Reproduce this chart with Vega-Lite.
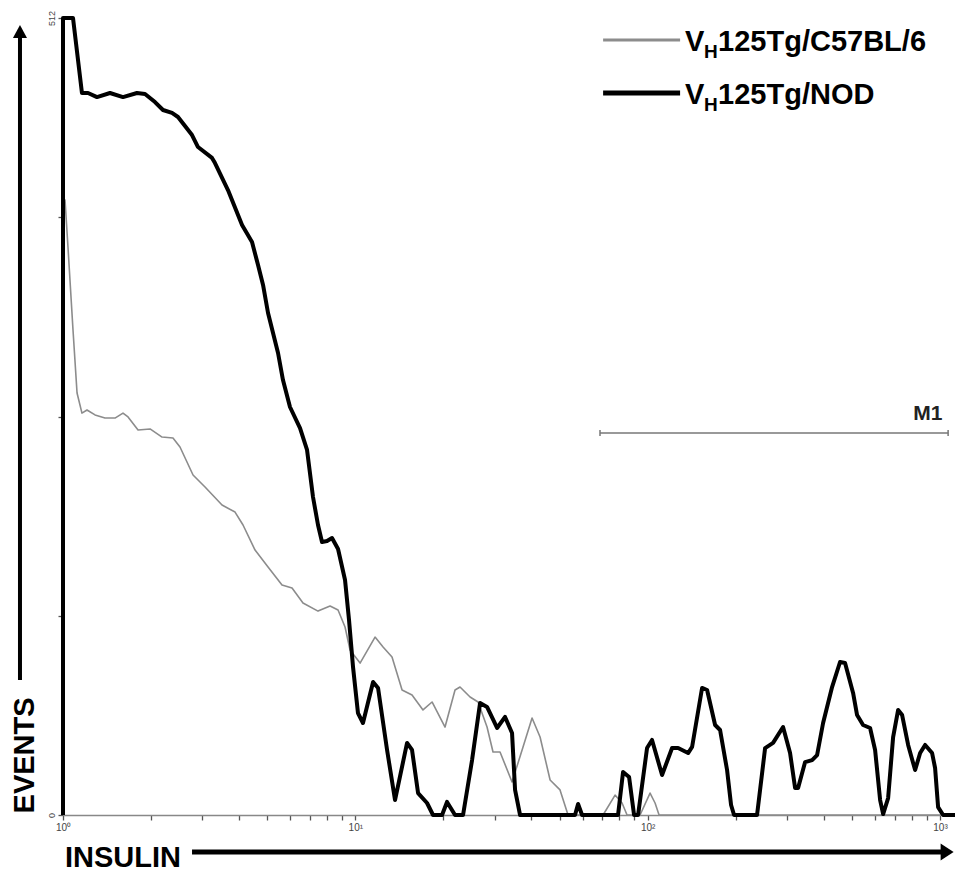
{
  "$schema": "https://vega.github.io/schema/vega-lite/v6.json",
  "width": 877,
  "height": 797,
  "autosize": {"type": "none"},
  "padding": {"left": 63, "top": 18, "right": 15, "bottom": 58},
  "background": "white",
  "config": {"view": {"stroke": null}, "font": "Liberation Sans"},
  "datasets": {
    "b6": [
      {"i":0,"x":1,"y":396.4},{"i":1,"x":1.016,"y":395.1},{"i":2,"x":1.04,"y":364.9},{"i":3,"x":1.082,"y":311.6},{"i":4,"x":1.117,"y":271.1},{"i":5,"x":1.161,"y":258.2},{"i":6,"x":1.208,"y":260.2},{"i":7,"x":1.287,"y":257},{"i":8,"x":1.392,"y":255},{"i":9,"x":1.506,"y":255},{"i":10,"x":1.604,"y":258.2},{"i":11,"x":1.669,"y":255.7},{"i":12,"x":1.806,"y":247.3},{"i":13,"x":1.985,"y":248},{"i":14,"x":2.182,"y":242.8},{"i":15,"x":2.378,"y":242.2},{"i":16,"x":2.513,"y":236.4},{"i":17,"x":2.785,"y":218.4},{"i":18,"x":3.061,"y":210.7},{"i":19,"x":3.499,"y":199.1},{"i":20,"x":3.877,"y":194.6},{"i":21,"x":4.129,"y":186.3},{"i":22,"x":4.539,"y":170.2},{"i":23,"x":5.028,"y":159.3},{"i":24,"x":5.613,"y":147.8},{"i":25,"x":6.074,"y":145.8},{"i":26,"x":6.622,"y":136.2},{"i":27,"x":7.453,"y":131},{"i":28,"x":8.195,"y":134.3},{"i":29,"x":8.727,"y":131.7},{"i":30,"x":9.221,"y":120.8},{"i":31,"x":9.592,"y":106},{"i":32,"x":10.38,"y":97.6},{"i":33,"x":11.68,"y":114.3},{"i":34,"x":12.44,"y":107.9},{"i":35,"x":13.35,"y":101.5},{"i":36,"x":14.45,"y":80.3},{"i":37,"x":15.63,"y":77.1},{"i":38,"x":17.04,"y":67.5},{"i":39,"x":18.3,"y":72.6},{"i":40,"x":20.27,"y":56.5},{"i":41,"x":21.93,"y":80.3},{"i":42,"x":22.81,"y":82.2},{"i":43,"x":24.69,"y":75.8},{"i":44,"x":26.29,"y":72.6},{"i":45,"x":28.22,"y":56.5},{"i":46,"x":29.58,"y":40.5},{"i":47,"x":31.26,"y":40.5},{"i":48,"x":34.36,"y":21.2},{"i":49,"x":37.47,"y":43.7},{"i":50,"x":40.23,"y":62.3},{"i":51,"x":42.85,"y":50.1},{"i":52,"x":46.37,"y":22.5},{"i":53,"x":50.14,"y":16.1},{"i":54,"x":53.42,"y":0},{"i":55,"x":70.38,"y":0},{"i":56,"x":77.35,"y":12.8},{"i":57,"x":81.73,"y":7.7},{"i":58,"x":85.02,"y":0},{"i":59,"x":94.19,"y":0},{"i":60,"x":101.9,"y":14.1},{"i":61,"x":106,"y":7.7},{"i":62,"x":109.4,"y":0},{"i":63,"x":1126,"y":0}
    ],
    "nod": [
      {"i":0,"x":1,"y":0},{"i":1,"x":1,"y":512},{"i":2,"x":1.082,"y":512},{"i":3,"x":1.161,"y":463.8},{"i":4,"x":1.218,"y":463.8},{"i":5,"x":1.307,"y":461.2},{"i":6,"x":1.448,"y":463.8},{"i":7,"x":1.604,"y":461.2},{"i":8,"x":1.791,"y":463.8},{"i":9,"x":1.908,"y":463.2},{"i":10,"x":2.064,"y":458},{"i":11,"x":2.198,"y":452.9},{"i":12,"x":2.36,"y":451},{"i":13,"x":2.474,"y":448.4},{"i":14,"x":2.763,"y":436.8},{"i":15,"x":2.896,"y":429.1},{"i":16,"x":3.234,"y":422.1},{"i":17,"x":3.311,"y":418.8},{"i":18,"x":3.667,"y":401.5},{"i":19,"x":4.097,"y":379},{"i":20,"x":4.432,"y":368.1},{"i":21,"x":4.647,"y":353.3},{"i":22,"x":4.834,"y":340.5},{"i":23,"x":5.028,"y":322.5},{"i":24,"x":5.44,"y":296.8},{"i":25,"x":5.656,"y":279.4},{"i":26,"x":5.977,"y":262.1},{"i":27,"x":6.469,"y":248.6},{"i":28,"x":6.836,"y":234.5},{"i":29,"x":7.165,"y":204.3},{"i":30,"x":7.453,"y":186.3},{"i":31,"x":7.692,"y":175.4},{"i":32,"x":8.001,"y":176},{"i":33,"x":8.322,"y":177.9},{"i":34,"x":8.727,"y":170.9},{"i":35,"x":9.221,"y":151},{"i":36,"x":9.515,"y":125.3},{"i":37,"x":9.82,"y":95.1},{"i":38,"x":10.21,"y":65.5},{"i":39,"x":10.62,"y":59.1},{"i":40,"x":11.5,"y":85.4},{"i":41,"x":11.96,"y":81.6},{"i":42,"x":12.84,"y":41.8},{"i":43,"x":13.67,"y":9.6},{"i":44,"x":15.03,"y":46.3},{"i":45,"x":15.63,"y":41.8},{"i":46,"x":16.39,"y":14.1},{"i":47,"x":17.59,"y":7.7},{"i":48,"x":18.44,"y":0},{"i":49,"x":19.8,"y":0},{"i":50,"x":20.59,"y":8.4},{"i":51,"x":21.93,"y":0},{"i":52,"x":23.36,"y":0},{"i":53,"x":25.08,"y":35.3},{"i":54,"x":26.71,"y":71.9},{"i":55,"x":28.22,"y":69.4},{"i":56,"x":30.54,"y":55.9},{"i":57,"x":32.52,"y":63},{"i":58,"x":34.36,"y":52.7},{"i":59,"x":35.19,"y":16.1},{"i":60,"x":36.6,"y":0},{"i":61,"x":56.43,"y":0},{"i":62,"x":57.8,"y":7.1},{"i":63,"x":59.64,"y":0},{"i":64,"x":79.19,"y":0},{"i":65,"x":82.38,"y":27.6},{"i":66,"x":86.38,"y":24.4},{"i":67,"x":89.84,"y":0},{"i":68,"x":92.73,"y":0},{"i":69,"x":99.52,"y":43},{"i":70,"x":103.5,"y":48.2},{"i":71,"x":112,"y":25.7},{"i":72,"x":121.2,"y":43},{"i":73,"x":127.1,"y":43},{"i":74,"x":137.5,"y":39.8},{"i":75,"x":141.9,"y":43.7},{"i":76,"x":153.5,"y":81.6},{"i":77,"x":159.7,"y":80.3},{"i":78,"x":170.1,"y":57.8},{"i":79,"x":176.9,"y":54.6},{"i":80,"x":186.9,"y":28.9},{"i":81,"x":192.9,"y":6.4},{"i":82,"x":197.5,"y":0},{"i":83,"x":236.7,"y":0},{"i":84,"x":252.2,"y":43},{"i":85,"x":268.5,"y":46.3},{"i":86,"x":290.5,"y":56.5},{"i":87,"x":307,"y":39.8},{"i":88,"x":319.4,"y":17.3},{"i":89,"x":327,"y":17.3},{"i":90,"x":345.6,"y":34},{"i":91,"x":365.2,"y":35.3},{"i":92,"x":379.8,"y":38.5},{"i":93,"x":398.2,"y":59.1},{"i":94,"x":427.4,"y":82.2},{"i":95,"x":455.1,"y":98.3},{"i":96,"x":473.4,"y":97.6},{"i":97,"x":504.3,"y":78.4},{"i":98,"x":520.4,"y":64.2},{"i":99,"x":545.6,"y":57.8},{"i":100,"x":576.6,"y":55.9},{"i":101,"x":599.8,"y":41.8},{"i":102,"x":624,"y":9.6},{"i":103,"x":639,"y":0.6},{"i":104,"x":664.6,"y":10.9},{"i":105,"x":691.3,"y":50.1},{"i":106,"x":719.1,"y":67.5},{"i":107,"x":742.1,"y":64.2},{"i":108,"x":778,"y":45},{"i":109,"x":809.3,"y":33.4},{"i":110,"x":822.1,"y":28.9},{"i":111,"x":855.1,"y":39.8},{"i":112,"x":889.4,"y":45},{"i":113,"x":939.7,"y":39.8},{"i":114,"x":962.1,"y":30.2},{"i":115,"x":985.1,"y":5.1},{"i":116,"x":1024.7,"y":0},{"i":117,"x":1126,"y":0}
    ]
  },
  "layer": [
    {
      "data": {"name": "b6"},
      "mark": {"type": "line", "color": "#8c8c8c", "strokeWidth": 1.6, "strokeJoin": "round", "clip": false},
      "encoding": {
        "x": {"field": "x", "type": "quantitative",
          "scale": {"type": "log", "domain": [1, 1000], "nice": false},
          "axis": {"values": [1,2,3,4,5,6,7,8,9,10,20,30,40,50,60,70,80,90,100,200,300,400,500,600,700,800,900,1000],
            "labelExpr": "datum.value==1?'10⁰':datum.value==10?'10¹':datum.value==100?'10²':datum.value==1000?'10³':''",
            "labelFlush": false, "labelOverlap": false, "labelFontSize": 10, "labelColor": "#444",
            "tickSize": 5, "tickWidth": 1.3, "tickColor": "#555", "domainColor": "#888", "domainWidth": 1.3, "grid": false, "title": null, "labelPadding": 2}},
        "y": {"field": "y", "type": "quantitative",
          "scale": {"domain": [0, 512], "nice": false},
          "axis": {"values": [0,128,256,384,512],
            "labelExpr": "datum.value==0||datum.value==512?datum.label:''",
            "labelAngle": 270, "labelFontSize": 9, "labelColor": "#444",
            "tickSize": 5, "tickWidth": 1.3, "tickColor": "#555", "domainColor": "#888", "grid": false, "title": null, "labelPadding": 2}},
        "order": {"field": "i", "type": "quantitative"}
      }
    },
    {
      "data": {"name": "nod"},
      "mark": {"type": "line", "color": "#000000", "strokeWidth": 4, "strokeJoin": "round", "clip": false},
      "encoding": {
        "x": {"field": "x", "type": "quantitative"},
        "y": {"field": "y", "type": "quantitative"},
        "order": {"field": "i", "type": "quantitative"}
      }
    },
    {
      "data": {"values": [{}]},
      "mark": {"type": "rule", "color": "#000", "strokeWidth": 4, "clip": false},
      "encoding": {"x": {"datum": 0.7126}, "y": {"datum": 86.7}, "y2": {"datum": 499.1}}
    },
    {
      "data": {"values": [{}]},
      "mark": {"type": "point", "shape": "M 0 -1 L 1.08 1 L -1.08 1 Z", "filled": true, "color": "#000", "opacity": 1, "size": 169, "clip": false},
      "encoding": {"x": {"datum": 0.7126}, "y": {"datum": 503.3}}
    },
    {
      "data": {"values": [{}]},
      "mark": {"type": "text", "text": "EVENTS", "angle": 270, "align": "left", "baseline": "middle", "fontSize": 29, "fontWeight": "bold", "color": "#000", "clip": false},
      "encoding": {"x": {"datum": 0.741}, "y": {"datum": 1}}
    },
    {
      "data": {"values": [{}]},
      "mark": {"type": "text", "text": "INSULIN", "align": "left", "baseline": "alphabetic", "fontSize": 29, "fontWeight": "bold", "color": "#000", "clip": false},
      "encoding": {"x": {"datum": 1.016}, "y": {"datum": -33.4}}
    },
    {
      "data": {"values": [{}]},
      "mark": {"type": "rule", "color": "#000", "strokeWidth": 5, "clip": false},
      "encoding": {"x": {"datum": 2.763}, "x2": {"datum": 1016.7}, "y": {"datum": -23.8}}
    },
    {
      "data": {"values": [{}]},
      "mark": {"type": "point", "shape": "M -1 -1.3 L 1 0 L -1 1.3 Z", "filled": true, "color": "#000", "opacity": 1, "size": 169, "clip": false},
      "encoding": {"x": {"datum": 1057.5}, "y": {"datum": -23.8}}
    },
    {
      "data": {"values": [{}]},
      "mark": {"type": "rule", "color": "#8c8c8c", "strokeWidth": 3, "clip": false},
      "encoding": {"x": {"datum": 70.4}, "x2": {"datum": 129.1}, "y": {"datum": 497.9}}
    },
    {
      "data": {"values": [{}]},
      "mark": {"type": "rule", "color": "#000", "strokeWidth": 5, "clip": false},
      "encoding": {"x": {"datum": 70.4}, "x2": {"datum": 129.1}, "y": {"datum": 463.8}}
    },
    {
      "data": {"values": [{}]},
      "mark": {"type": "text", "text": "V", "align": "left", "baseline": "alphabetic", "fontSize": 29, "fontWeight": "bold", "color": "#000"},
      "encoding": {"x": {"datum": 134.3}, "y": {"datum": 490.8}}
    },
    {
      "data": {"values": [{}]},
      "mark": {"type": "text", "text": "H", "align": "left", "baseline": "alphabetic", "fontSize": 19, "fontWeight": "bold", "color": "#000", "dx": 19, "dy": 7},
      "encoding": {"x": {"datum": 134.3}, "y": {"datum": 490.8}}
    },
    {
      "data": {"values": [{}]},
      "mark": {"type": "text", "text": "125Tg/C57BL/6", "align": "left", "baseline": "alphabetic", "fontSize": 29, "fontWeight": "bold", "color": "#000", "dx": 33},
      "encoding": {"x": {"datum": 134.3}, "y": {"datum": 490.8}}
    },
    {
      "data": {"values": [{}]},
      "mark": {"type": "text", "text": "V", "align": "left", "baseline": "alphabetic", "fontSize": 29, "fontWeight": "bold", "color": "#000"},
      "encoding": {"x": {"datum": 134.3}, "y": {"datum": 456.8}}
    },
    {
      "data": {"values": [{}]},
      "mark": {"type": "text", "text": "H", "align": "left", "baseline": "alphabetic", "fontSize": 19, "fontWeight": "bold", "color": "#000", "dx": 19, "dy": 7},
      "encoding": {"x": {"datum": 134.3}, "y": {"datum": 456.8}}
    },
    {
      "data": {"values": [{}]},
      "mark": {"type": "text", "text": "125Tg/NOD", "align": "left", "baseline": "alphabetic", "fontSize": 29, "fontWeight": "bold", "color": "#000", "dx": 33},
      "encoding": {"x": {"datum": 134.3}, "y": {"datum": 456.8}}
    },
    {
      "data": {"values": [{}]},
      "mark": {"type": "rule", "color": "#777", "strokeWidth": 1.5, "clip": false},
      "encoding": {"x": {"datum": 68.7}, "x2": {"datum": 1066}, "y": {"datum": 245.4}}
    },
    {
      "data": {"values": [{}]},
      "mark": {"type": "rule", "color": "#777", "strokeWidth": 1.5, "clip": false},
      "encoding": {"x": {"datum": 68.7}, "y": {"datum": 243.5}, "y2": {"datum": 247.3}}
    },
    {
      "data": {"values": [{}]},
      "mark": {"type": "rule", "color": "#777", "strokeWidth": 1.5, "clip": false},
      "encoding": {"x": {"datum": 1066}, "y": {"datum": 243.5}, "y2": {"datum": 247.3}}
    },
    {
      "data": {"values": [{}]},
      "mark": {"type": "text", "text": "M1", "align": "right", "baseline": "alphabetic", "fontSize": 21, "fontWeight": "bold", "color": "#222", "clip": false},
      "encoding": {"x": {"datum": 1020}, "y": {"datum": 253.7}}
    }
  ]
}
